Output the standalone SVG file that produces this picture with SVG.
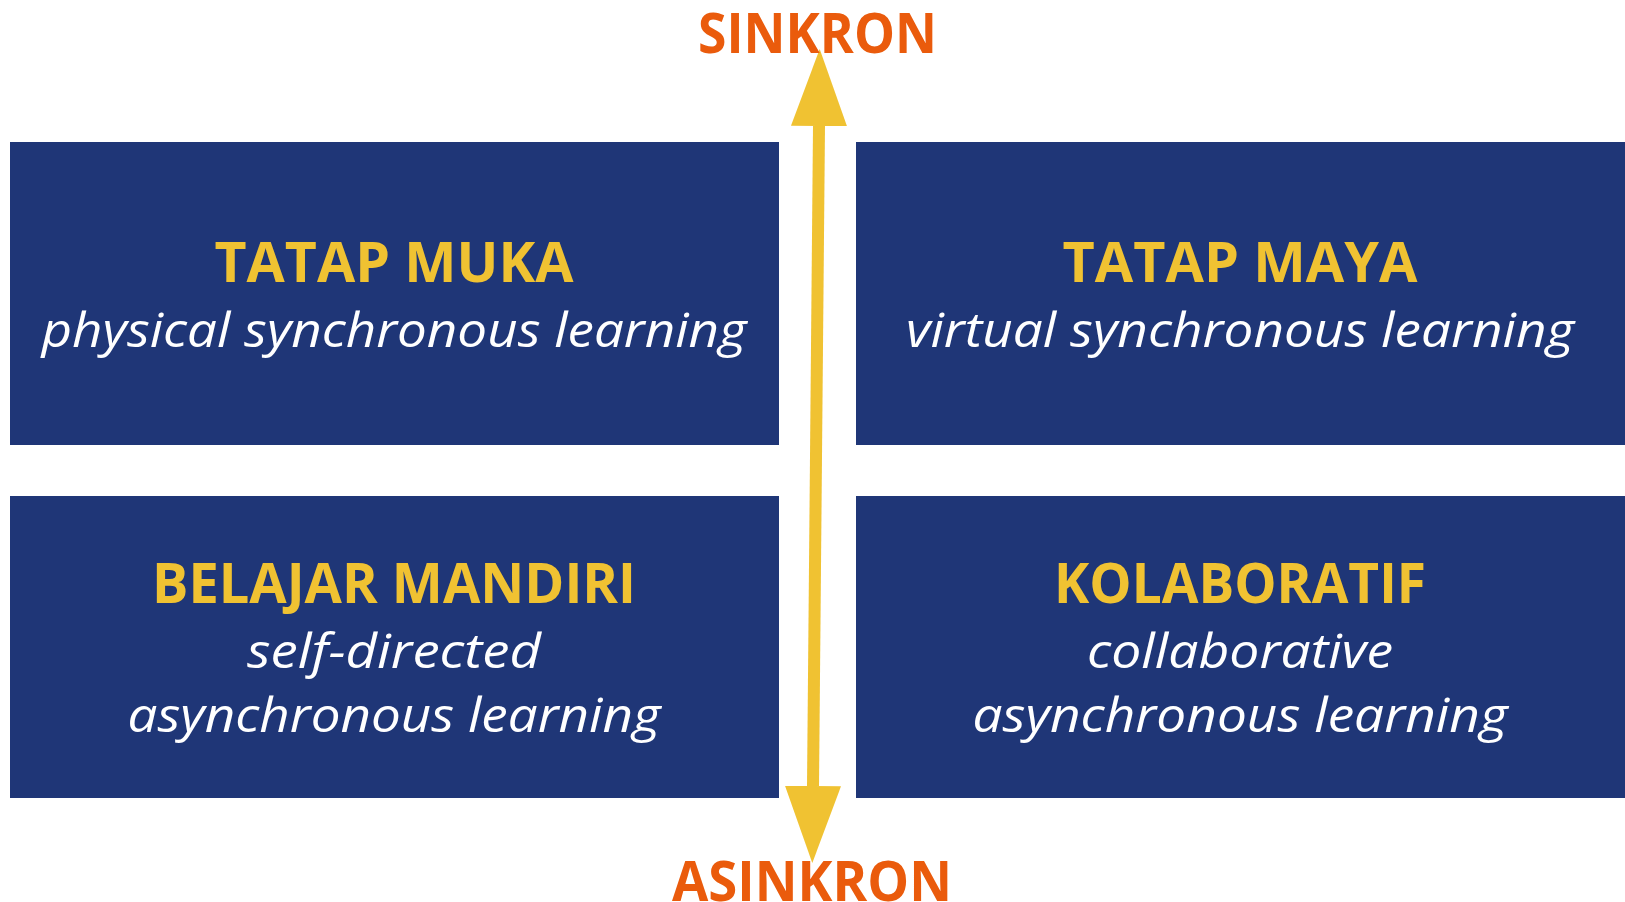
<svg xmlns="http://www.w3.org/2000/svg" width="1625" height="902" viewBox="0 0 1625 902">
<style>
.box{fill:#1F3677}
.title{font-family:"Open Sans","Noto Sans","Liberation Sans",sans-serif;font-weight:bold;font-size:56px;fill:#F0C232;text-anchor:middle}
.sub{font-family:"Open Sans","Noto Sans","Liberation Sans",sans-serif;font-style:italic;font-size:47px;fill:#FFFFFF;text-anchor:middle}
.axis{font-family:"Open Sans","Noto Sans","Liberation Sans",sans-serif;font-weight:bold;font-size:55px;fill:#EA5B0C;text-anchor:middle}
</style>
<defs>
<marker id="head" markerUnits="userSpaceOnUse" markerWidth="77" markerHeight="56" refX="0" refY="28" orient="auto-start-reverse" viewBox="0 0 77 56">
<path d="M0,0 L77,28 L0,56 Z" fill="#F0C232"/>
</marker>
</defs>
<rect width="1625" height="902" fill="#FFFFFF"/>
<g id="tatap-muka">
<rect class="box" x="10" y="142" width="769" height="303"/>
<text class="title" x="394" y="282" textLength="359" lengthAdjust="spacingAndGlyphs">TATAP MUKA</text>
<text class="sub" x="394" y="347" textLength="705" lengthAdjust="spacingAndGlyphs">physical synchronous learning</text>
</g>
<g id="tatap-maya">
<rect class="box" x="856" y="142" width="769" height="303"/>
<text class="title" x="1240" y="282" textLength="355" lengthAdjust="spacingAndGlyphs">TATAP MAYA</text>
<text class="sub" x="1240" y="347" textLength="668" lengthAdjust="spacingAndGlyphs">virtual synchronous learning</text>
</g>
<g id="belajar-mandiri">
<rect class="box" x="10" y="496" width="769" height="302"/>
<text class="title" x="394" y="603" textLength="484" lengthAdjust="spacingAndGlyphs">BELAJAR MANDIRI</text>
<text class="sub" x="394" y="668" textLength="294" lengthAdjust="spacingAndGlyphs">self-directed</text>
<text class="sub" x="394" y="732" textLength="533" lengthAdjust="spacingAndGlyphs">asynchronous learning</text>
</g>
<g id="kolaboratif">
<rect class="box" x="856" y="496" width="769" height="302"/>
<text class="title" x="1240" y="603" textLength="372" lengthAdjust="spacingAndGlyphs">KOLABORATIF</text>
<text class="sub" x="1240" y="668" textLength="306" lengthAdjust="spacingAndGlyphs">collaborative</text>
<text class="sub" x="1240" y="732" textLength="535" lengthAdjust="spacingAndGlyphs">asynchronous learning</text>
</g>
<g id="connectors">
<path d="M819,126 L813,786" stroke="#F0C232" stroke-width="12" fill="none" marker-start="url(#head)" marker-end="url(#head)"/>
</g>
<g id="labels">
<text class="axis" x="817.5" y="53" textLength="239" lengthAdjust="spacingAndGlyphs">SINKRON</text>
<text class="axis" x="812" y="901" textLength="280" lengthAdjust="spacingAndGlyphs">ASINKRON</text>
</g>
</svg>
